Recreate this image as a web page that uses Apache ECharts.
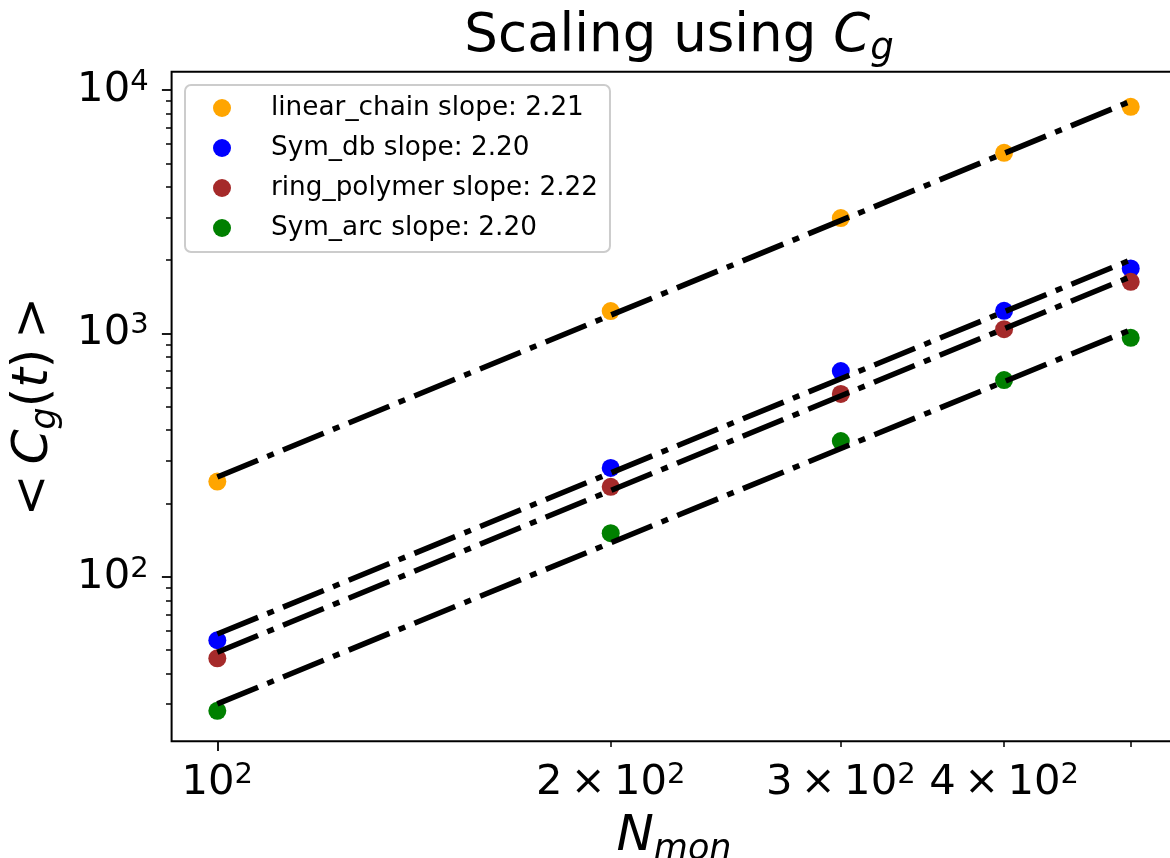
<!DOCTYPE html>
<html>
<head>
<meta charset="utf-8">
<script src="https://cdn.jsdelivr.net/npm/echarts@6/dist/echarts.min.js"></script>
<style>
  html, body { margin: 0; padding: 0; background: #ffffff; }
  #chart { width: 1170px; height: 858px; }
</style>
</head>
<body>
<div id="chart"></div>
<script>
// Number of monomers on the horizontal axis
const nMon = [100, 200, 300, 400, 500];

// Mean <C_g(t)> per topology
const linearChain = [246, 1235, 2980, 5525, 8540];
const symDb = [54.8, 280, 700, 1238, 1850];
const ringPolymer = [46.2, 234, 564, 1041, 1630];
const symArc = [28.1, 151, 361, 643, 959];

// Power-law fit lines, end points at N = 100 and N = 500
const fitX = [100, 500];
const linearChainFit = [257, 9000];
const symDbFit = [58.1, 2005];
const ringPolymerFit = [48.9, 1710];
const symArcFit = [30.0, 1035];

const seriesNames = [
  'linear_chain slope: 2.21',
  'Sym_db slope: 2.20',
  'ring_polymer slope: 2.22',
  'Sym_arc slope: 2.20'
];
const seriesColors = ['#ffa500', '#0000ff', '#a52a2a', '#008000'];

// Tick positions
const xLabelTicks = [100, 200, 300, 400];
const xMajorTicks = [100];
const xMinorTicks = [200, 300, 400, 500];
const yMajorTicks = [100, 1000, 10000];
const yMinorTicks = [30, 40, 50, 60, 70, 80, 90,
                     200, 300, 400, 500, 600, 700, 800, 900,
                     2000, 3000, 4000, 5000, 6000, 7000, 8000, 9000];

const FONT = 'DejaVu Sans';
const xRange = [92.26, 541.9];
const yRange = [21.06, 11904];

const tickRich = {
  b: { fontFamily: FONT, fontSize: 41.7, lineHeight: 44, color: '#000' },
  s: { fontFamily: FONT, fontSize: 29, lineHeight: 18, color: '#000', verticalAlign: 'top' }
};

function powLabel(v) {
  const e = Math.floor(Math.log10(v) + 1e-9);
  const m = Math.round(v / Math.pow(10, e));
  const head = m === 1 ? '10' : m + '\u2009\u00d7\u200910';
  return '{b|' + head + '}{s|' + e + '}';
}

const pairs = ys => fitX.map((x, i) => [x, ys[i]]);
const points = ys => nMon.map((x, i) => [x, ys[i]]);

const valueSets = [linearChain, symDb, ringPolymer, symArc];
const fitSets = [linearChainFit, symDbFit, ringPolymerFit, symArcFit];

const series = [];
valueSets.forEach((vals, i) => {
  series.push({
    name: seriesNames[i],
    type: 'scatter',
    data: points(vals),
    symbol: 'circle',
    symbolSize: 18,
    itemStyle: { color: seriesColors[i], opacity: 1 },
    z: 2
  });
});
fitSets.forEach((vals, i) => {
  series.push({
    name: seriesNames[i] + ' fit',
    type: 'line',
    data: pairs(vals),
    symbol: 'none',
    showSymbol: false,
    lineStyle: { color: '#000', width: 5.5, type: [44, 10, 7, 10], cap: 'butt' },
    z: 3
  });
});

const axisCommon = {
  type: 'log',
  logBase: 10,
  splitLine: { show: false },
  axisLine: { show: false }
};

const option = {
  animation: false,
  backgroundColor: '#ffffff',
  title: {
    text: 'Scaling using {i|C}{sub|g}',
    left: 674,
    textAlign: 'center',
    top: 1,
    textStyle: {
      fontFamily: FONT, fontSize: 53, fontWeight: 'normal', color: '#000', lineHeight: 62,
      rich: {
        i: { fontFamily: FONT, fontSize: 53, fontStyle: 'italic', color: '#000', lineHeight: 62 },
        sub: { fontFamily: FONT, fontSize: 37, fontStyle: 'italic', color: '#000', lineHeight: 31, verticalAlign: 'bottom' }
      }
    }
  },
  legend: {
    data: seriesNames,
    orient: 'vertical',
    left: 185,
    top: 85,
    padding: [8, 12, 9, 28],
    itemGap: 10,
    itemWidth: 18,
    itemHeight: 18,
    icon: 'circle',
    backgroundColor: '#ffffff',
    borderColor: '#cccccc',
    borderWidth: 2,
    borderRadius: 6,
    textStyle: { fontFamily: FONT, fontSize: 26.3, color: '#000', lineHeight: 30, padding: [0, 0, 0, 35] }
  },
  grid: {
    left: 171.6,
    top: 71.7,
    right: -6.4,
    bottom: 116.7,
    show: true,
    borderColor: '#000',
    borderWidth: 2,
    backgroundColor: 'transparent',
    outerBoundsMode: 'none',
    containLabel: false
  },
  xAxis: [
    Object.assign({}, axisCommon, {
      position: 'bottom',
      min: xRange[0], max: xRange[1],
      name: '{n|N}{m|mon}',
      nameLocation: 'middle',
      nameGap: 66,
      nameTextStyle: {
        rich: {
          n: { fontFamily: FONT, fontSize: 50, fontStyle: 'italic', color: '#000', lineHeight: 60 },
          m: { fontFamily: FONT, fontSize: 35, fontStyle: 'italic', color: '#000', lineHeight: 30, verticalAlign: 'bottom' }
        }
      },
      axisTick: { show: true, length: 9.7, lineStyle: { color: '#000', width: 1.8 }, customValues: xMajorTicks },
      axisLabel: { show: true, margin: 20, customValues: xLabelTicks, formatter: powLabel, rich: tickRich }
    }),
    Object.assign({}, axisCommon, {
      position: 'bottom',
      min: xRange[0], max: xRange[1],
      axisTick: { show: true, length: 5.6, lineStyle: { color: '#000', width: 1.5 }, customValues: xMinorTicks },
      axisLabel: { show: false }
    })
  ],
  yAxis: [
    Object.assign({}, axisCommon, {
      position: 'left',
      min: yRange[0], max: yRange[1],
      name: '{t|<\u2009}{c|C}{g|g}{t|(}{c|t}{t|)\u2009>}',
      nameLocation: 'middle',
      nameRotate: 90,
      nameGap: 108,
      nameTextStyle: {
        rich: {
          t: { fontFamily: FONT, fontSize: 50, color: '#000', lineHeight: 60 },
          c: { fontFamily: FONT, fontSize: 50, fontStyle: 'italic', color: '#000', lineHeight: 60 },
          g: { fontFamily: FONT, fontSize: 35, fontStyle: 'italic', color: '#000', lineHeight: 30, verticalAlign: 'bottom' }
        }
      },
      axisTick: { show: true, length: 9.7, lineStyle: { color: '#000', width: 1.8 }, customValues: yMajorTicks },
      axisLabel: { show: true, margin: 23, customValues: yMajorTicks, formatter: powLabel, rich: tickRich }
    }),
    Object.assign({}, axisCommon, {
      position: 'left',
      min: yRange[0], max: yRange[1],
      axisTick: { show: true, length: 5.6, lineStyle: { color: '#000', width: 1.5 }, customValues: yMinorTicks },
      axisLabel: { show: false }
    })
  ],
  series: series.map(s => Object.assign(s, { xAxisIndex: 0, yAxisIndex: 0 }))
};

const chart = echarts.init(document.getElementById('chart'), null, { renderer: 'canvas' });
chart.setOption(option);
</script>
</body>
</html>
